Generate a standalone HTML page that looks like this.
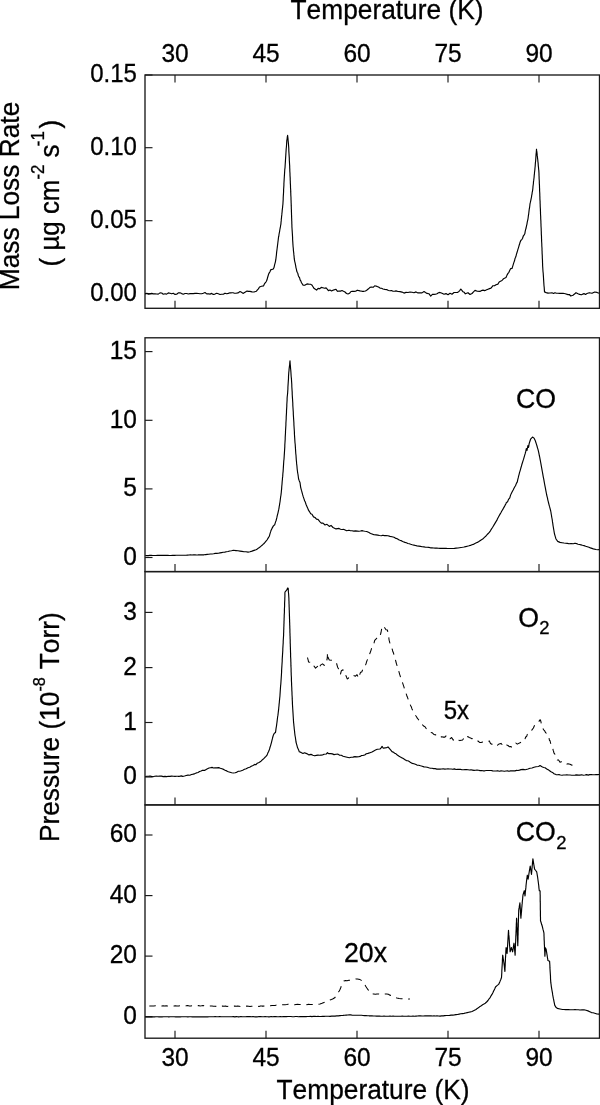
<!DOCTYPE html>
<html lang="en"><head><meta charset="utf-8"><title>TPD spectra</title>
<style>html,body{margin:0;padding:0;background:#fff}body{width:600px;height:1105px;overflow:hidden}svg{display:block}text{font-family:"Liberation Sans",Arial,sans-serif;fill:#000;stroke:#000;stroke-width:.3px;font-kerning:none}.tk{font-size:24.5px}.ti{font-size:26.3px}.lb{font-size:26.7px}.f{fill:none;stroke:#1a1a1a;stroke-width:1.35}.c{fill:none;stroke:#000;stroke-width:1.15;stroke-linejoin:round;stroke-linecap:butt}.t{stroke:#1a1a1a;stroke-width:1.15}.d{stroke-width:1.05}</style></head><body>
<svg width="600" height="1105" viewBox="0 0 600 1105">
<rect width="600" height="1105" fill="#fff"/>
<rect class="f" x="145" y="75" width="454.5" height="233.3"/>
<line class="t" x1="175.0" y1="308.3" x2="175.0" y2="300.8"/>
<line class="t" x1="266.0" y1="308.3" x2="266.0" y2="300.8"/>
<line class="t" x1="357.0" y1="308.3" x2="357.0" y2="300.8"/>
<line class="t" x1="448.0" y1="308.3" x2="448.0" y2="300.8"/>
<line class="t" x1="539.0" y1="308.3" x2="539.0" y2="300.8"/>
<line class="t" x1="175.0" y1="75" x2="175.0" y2="82.5"/>
<line class="t" x1="266.0" y1="75" x2="266.0" y2="82.5"/>
<line class="t" x1="357.0" y1="75" x2="357.0" y2="82.5"/>
<line class="t" x1="448.0" y1="75" x2="448.0" y2="82.5"/>
<line class="t" x1="539.0" y1="75" x2="539.0" y2="82.5"/>
<line class="t" x1="145" y1="75" x2="152.5" y2="75"/>
<text class="tk" transform="translate(136.9,82.3) scale(1,1.04)" text-anchor="end" style="font-size:24px">0.15</text>
<line class="t" x1="145" y1="147.7" x2="152.5" y2="147.7"/>
<text class="tk" transform="translate(136.9,155.0) scale(1,1.04)" text-anchor="end" style="font-size:24px">0.10</text>
<line class="t" x1="145" y1="220.7" x2="152.5" y2="220.7"/>
<text class="tk" transform="translate(136.9,228.0) scale(1,1.04)" text-anchor="end" style="font-size:24px">0.05</text>
<line class="t" x1="145" y1="293.6" x2="152.5" y2="293.6"/>
<text class="tk" transform="translate(136.9,300.9) scale(1,1.04)" text-anchor="end" style="font-size:24px">0.00</text>
<rect class="f" x="145" y="337.8" width="454.5" height="233.8"/>
<line class="t" x1="175.0" y1="571.6" x2="175.0" y2="564.1"/>
<line class="t" x1="266.0" y1="571.6" x2="266.0" y2="564.1"/>
<line class="t" x1="357.0" y1="571.6" x2="357.0" y2="564.1"/>
<line class="t" x1="448.0" y1="571.6" x2="448.0" y2="564.1"/>
<line class="t" x1="539.0" y1="571.6" x2="539.0" y2="564.1"/>
<line class="t" x1="145" y1="351.6" x2="152.5" y2="351.6"/>
<text class="tk" transform="translate(136.9,358.9) scale(1,1.04)" text-anchor="end">15</text>
<line class="t" x1="145" y1="420.3" x2="152.5" y2="420.3"/>
<text class="tk" transform="translate(136.9,427.6) scale(1,1.04)" text-anchor="end">10</text>
<line class="t" x1="145" y1="488.9" x2="152.5" y2="488.9"/>
<text class="tk" transform="translate(136.9,496.2) scale(1,1.04)" text-anchor="end">5</text>
<line class="t" x1="145" y1="557.5" x2="152.5" y2="557.5"/>
<text class="tk" transform="translate(136.9,564.8) scale(1,1.04)" text-anchor="end">0</text>
<rect class="f" x="145" y="571.6" width="454.5" height="233.29999999999995"/>
<line class="t" x1="175.0" y1="804.9" x2="175.0" y2="797.4"/>
<line class="t" x1="266.0" y1="804.9" x2="266.0" y2="797.4"/>
<line class="t" x1="357.0" y1="804.9" x2="357.0" y2="797.4"/>
<line class="t" x1="448.0" y1="804.9" x2="448.0" y2="797.4"/>
<line class="t" x1="539.0" y1="804.9" x2="539.0" y2="797.4"/>
<line class="t" x1="145" y1="612.4" x2="152.5" y2="612.4"/>
<text class="tk" transform="translate(136.9,619.7) scale(1,1.04)" text-anchor="end">3</text>
<line class="t" x1="145" y1="667.6" x2="152.5" y2="667.6"/>
<text class="tk" transform="translate(136.9,674.9) scale(1,1.04)" text-anchor="end">2</text>
<line class="t" x1="145" y1="722.5" x2="152.5" y2="722.5"/>
<text class="tk" transform="translate(136.9,729.8) scale(1,1.04)" text-anchor="end">1</text>
<line class="t" x1="145" y1="777" x2="152.5" y2="777"/>
<text class="tk" transform="translate(136.9,784.3) scale(1,1.04)" text-anchor="end">0</text>
<rect class="f" x="145" y="804.9" width="454.5" height="233.30000000000007"/>
<line class="t" x1="175.0" y1="1038.2" x2="175.0" y2="1030.7"/>
<line class="t" x1="266.0" y1="1038.2" x2="266.0" y2="1030.7"/>
<line class="t" x1="357.0" y1="1038.2" x2="357.0" y2="1030.7"/>
<line class="t" x1="448.0" y1="1038.2" x2="448.0" y2="1030.7"/>
<line class="t" x1="539.0" y1="1038.2" x2="539.0" y2="1030.7"/>
<line class="t" x1="145" y1="835" x2="152.5" y2="835"/>
<text class="tk" transform="translate(136.9,842.3) scale(1,1.04)" text-anchor="end">60</text>
<line class="t" x1="145" y1="895.6" x2="152.5" y2="895.6"/>
<text class="tk" transform="translate(136.9,902.9) scale(1,1.04)" text-anchor="end">40</text>
<line class="t" x1="145" y1="956.1" x2="152.5" y2="956.1"/>
<text class="tk" transform="translate(136.9,963.4) scale(1,1.04)" text-anchor="end">20</text>
<line class="t" x1="145" y1="1016.8" x2="152.5" y2="1016.8"/>
<text class="tk" transform="translate(136.9,1024.1) scale(1,1.04)" text-anchor="end">0</text>
<text class="tk" transform="translate(175.0,62) scale(1,1.04)" text-anchor="middle">30</text>
<text class="tk" transform="translate(175.0,1065.5) scale(1,1.04)" text-anchor="middle">30</text>
<text class="tk" transform="translate(266.0,62) scale(1,1.04)" text-anchor="middle">45</text>
<text class="tk" transform="translate(266.0,1065.5) scale(1,1.04)" text-anchor="middle">45</text>
<text class="tk" transform="translate(357.0,62) scale(1,1.04)" text-anchor="middle">60</text>
<text class="tk" transform="translate(357.0,1065.5) scale(1,1.04)" text-anchor="middle">60</text>
<text class="tk" transform="translate(448.0,62) scale(1,1.04)" text-anchor="middle">75</text>
<text class="tk" transform="translate(448.0,1065.5) scale(1,1.04)" text-anchor="middle">75</text>
<text class="tk" transform="translate(539.0,62) scale(1,1.04)" text-anchor="middle">90</text>
<text class="tk" transform="translate(539.0,1065.5) scale(1,1.04)" text-anchor="middle">90</text>
<text class="ti" transform="translate(387,18.9) scale(1,1.04)" text-anchor="middle">Temperature (K)</text>
<text class="ti" transform="translate(373,1098.8) scale(1,1.04)" text-anchor="middle">Temperature (K)</text>
<text class="ti" transform="translate(18.8,196) rotate(-90) scale(1,1.04)" text-anchor="middle">Mass Loss Rate</text>
<text class="ti" transform="translate(58.6,193.2) rotate(-90) scale(1,1.04)" text-anchor="middle" style="font-size:25.9px">( µg cm<tspan dy="-14.4" style="font-size:16.8px">-2</tspan><tspan dy="14.4"> s</tspan><tspan dy="-14.4" dx="-1.6" style="font-size:16.8px">-1</tspan><tspan dy="14.4" dx="2.6">)</tspan></text>
<text class="ti" transform="translate(58.9,727.2) rotate(-90) scale(1,1.04)" text-anchor="middle">Pressure (10<tspan dy="-13.2" style="font-size:16.2px">-8</tspan><tspan dy="13.2" dx="0.6"> Torr)</tspan></text>
<polyline class="c" points="145.3,293.9 146.9,293.3 148.4,294.2 150.0,294.0 151.7,293.4 153.3,293.9 155.0,293.9 156.7,294.0 158.3,294.1 160.0,292.9 161.7,293.0 163.3,294.2 165.0,293.8 166.7,294.1 168.3,292.9 170.0,293.3 171.7,293.8 173.3,293.3 175.0,294.4 176.7,294.3 178.3,292.9 180.0,292.8 181.7,293.6 183.3,294.2 185.0,293.5 186.7,293.5 188.3,294.0 190.0,293.6 191.7,293.6 193.3,293.6 195.0,293.4 196.7,293.3 198.3,293.5 200.0,293.7 201.7,293.7 203.3,293.2 205.0,292.5 206.7,293.9 208.3,293.7 210.0,294.1 211.7,293.4 213.3,294.4 215.0,294.1 216.7,293.3 218.3,293.8 220.0,294.5 221.7,294.2 223.3,294.2 225.0,293.2 226.7,293.7 228.3,293.4 230.0,292.8 231.5,292.8 233.0,292.7 234.5,293.2 236.0,293.2 238.0,292.9 240.0,291.6 241.5,292.3 243.0,293.4 245.0,292.2 247.0,291.1 248.5,291.4 250.0,291.4 252.0,291.9 254.0,292.0 256.3,291.3 257.4,289.9 258.4,288.9 259.5,287.0 261.5,286.3 263.5,285.9 264.6,283.6 265.8,282.1 266.4,281.2 267.0,279.8 267.6,277.5 268.2,275.5 268.8,273.6 269.4,272.6 270.0,271.7 270.6,269.9 273.3,269.0 274.0,267.6 274.6,264.9 275.0,263.4 275.4,261.8 275.8,259.7 276.0,258.1 276.2,256.4 276.4,255.0 276.5,253.6 276.7,251.6 276.9,250.3 277.1,248.7 277.3,247.2 277.5,245.5 277.7,244.0 277.9,242.3 278.1,240.7 278.3,239.1 278.5,237.3 278.8,236.2 279.0,234.5 279.3,232.9 279.6,231.5 279.8,230.0 280.1,228.4 280.4,226.9 280.6,225.5 280.9,224.1 281.0,222.5 281.2,220.9 281.3,219.2 281.5,217.8 281.6,216.3 281.8,214.9 281.9,213.5 282.1,212.0 282.2,210.4 282.4,208.9 282.6,207.2 282.7,205.9 282.9,204.3 283.0,202.5 283.1,200.9 283.2,199.3 283.2,198.1 283.3,196.3 283.4,194.6 283.5,193.2 283.6,191.5 283.6,189.8 283.7,188.3 283.8,186.9 283.9,185.1 283.9,183.6 284.0,182.2 284.1,180.5 284.2,178.8 284.3,177.3 284.4,175.5 284.5,174.1 284.6,172.5 284.7,170.8 284.8,169.2 285.0,168.0 285.1,166.2 285.2,164.5 285.3,163.1 285.4,161.6 285.5,159.7 285.6,158.1 285.7,156.6 285.8,155.2 285.9,153.4 286.0,152.0 286.1,150.4 286.2,148.8 286.4,147.0 286.5,145.8 286.6,144.1 286.7,142.4 286.8,140.7 287.1,139.0 287.3,137.1 287.6,135.3 287.8,137.0 288.0,138.8 288.1,140.3 288.3,142.2 288.5,144.2 288.6,145.7 288.7,147.1 288.8,148.9 288.8,150.3 288.9,152.1 289.0,153.6 289.1,155.1 289.2,156.6 289.3,158.1 289.3,160.0 289.4,161.2 289.5,163.1 289.6,164.8 289.7,166.1 289.7,167.5 289.8,169.3 289.8,170.8 289.9,172.2 290.0,173.7 290.0,175.1 290.1,176.6 290.2,178.1 290.2,179.8 290.3,181.2 290.3,182.6 290.4,184.1 290.5,185.8 290.5,187.2 290.6,188.8 290.7,190.2 290.7,191.9 290.8,193.4 290.8,194.6 290.9,196.2 291.0,197.7 291.0,199.5 291.1,200.9 291.1,202.3 291.2,203.7 291.2,205.4 291.3,207.0 291.3,208.6 291.4,209.8 291.4,211.6 291.5,213.0 291.5,214.4 291.6,216.1 291.6,217.3 291.7,219.0 291.7,220.3 291.8,221.8 291.8,223.6 291.9,224.9 291.9,226.6 292.0,228.0 292.1,229.7 292.2,231.1 292.3,232.7 292.4,234.2 292.5,236.1 292.6,237.5 292.6,239.3 292.7,240.8 292.8,242.1 292.9,243.9 293.0,245.3 293.1,246.8 293.3,248.4 293.4,250.3 293.6,251.9 293.8,253.5 293.9,254.9 294.1,256.6 294.2,258.2 294.4,259.6 294.7,261.3 295.1,262.8 295.4,264.3 295.7,265.9 296.0,267.8 296.4,269.2 296.7,271.0 297.2,272.2 297.8,273.3 298.3,275.5 298.9,276.9 299.4,277.2 300.1,279.9 300.8,280.9 301.5,282.7 303.1,285.1 304.7,285.3 307.0,283.9 309.4,284.2 310.6,284.3 311.8,284.9 313.0,286.7 314.2,288.6 316.6,290.1 318.1,288.4 319.7,288.8 321.3,287.4 322.9,287.7 324.5,288.2 326.1,287.9 327.2,289.1 328.4,290.6 330.0,290.0 331.6,290.9 333.3,290.1 336.0,289.3 337.5,291.3 339.0,291.0 340.5,291.1 342.0,290.5 343.5,291.3 345.0,292.0 346.5,293.5 348.0,294.0 349.5,293.3 351.0,291.5 352.5,291.2 354.0,291.4 355.6,291.3 357.3,290.2 360.0,290.9 362.0,291.3 364.0,291.3 365.5,291.0 367.0,290.0 368.5,288.8 370.0,287.4 371.6,287.0 373.1,287.3 374.7,285.8 377.0,286.4 378.5,287.1 380.0,288.1 381.5,288.2 383.0,289.0 384.9,289.4 386.7,289.6 388.4,290.5 390.0,290.8 391.5,290.5 393.0,291.2 394.5,291.2 396.0,290.9 398.0,291.5 400.0,291.6 402.0,292.1 404.0,293.1 406.0,292.4 408.0,292.5 410.0,292.0 412.0,292.3 414.0,292.7 416.0,291.9 418.0,292.9 420.0,292.8 422.0,292.9 424.0,291.5 425.5,292.5 427.0,293.4 428.9,293.7 430.7,296.1 432.4,294.3 434.0,294.4 435.5,294.3 437.0,293.7 438.5,292.8 440.0,292.4 442.0,293.3 444.0,294.2 446.0,293.6 448.0,294.7 450.0,293.3 452.0,294.2 454.0,292.5 456.0,292.5 457.5,292.5 459.0,291.4 459.9,290.3 460.8,289.0 461.9,290.3 463.0,291.8 464.1,292.2 465.3,293.8 468.0,292.7 470.0,294.5 472.0,293.5 473.5,291.8 475.0,290.4 477.3,291.3 480.0,291.4 481.5,290.6 483.0,290.1 484.5,290.6 486.0,290.1 488.0,289.2 489.5,288.6 491.0,288.1 493.0,285.7 494.5,285.8 496.0,284.7 498.0,284.1 499.0,282.2 500.0,281.4 502.0,280.5 503.0,279.3 504.0,278.4 506.0,277.5 507.0,275.1 508.0,273.4 508.9,272.3 509.8,270.3 510.7,268.6 512.0,268.5 512.5,266.9 513.0,265.3 513.5,263.6 514.0,262.1 514.5,260.8 515.0,258.6 515.5,257.5 516.0,256.0 516.5,254.1 517.0,252.5 517.5,250.8 518.0,249.2 518.5,247.6 519.0,245.8 519.5,244.3 520.0,242.5 520.8,240.5 521.7,239.6 522.5,238.5 523.3,236.0 524.0,235.2 524.8,233.8 525.2,231.4 525.6,229.7 526.1,228.0 526.5,225.9 526.9,224.3 527.2,222.4 527.6,220.6 528.0,218.8 528.2,217.2 528.4,215.6 528.7,213.8 528.9,212.0 529.1,210.4 529.3,208.8 529.6,207.3 529.8,205.7 530.0,203.8 530.4,202.2 530.8,200.4 531.2,198.4 531.5,197.0 531.7,195.4 532.0,194.1 532.2,192.3 532.5,191.2 532.7,189.6 532.9,188.0 533.0,186.3 533.2,185.0 533.4,183.5 533.5,181.6 533.7,180.4 533.9,178.8 534.1,177.2 534.2,175.6 534.4,173.9 534.5,172.5 534.7,171.0 534.9,169.1 535.0,167.7 535.2,166.0 535.3,164.3 535.4,162.9 535.6,161.3 535.7,160.1 535.8,158.6 535.9,156.7 536.0,155.4 536.1,153.8 536.3,152.2 536.4,150.7 536.5,149.2 536.7,150.9 536.9,152.1 537.1,153.8 537.2,155.4 537.4,156.7 537.6,158.5 537.8,160.0 537.9,161.6 538.1,162.9 538.2,164.4 538.3,166.0 538.5,167.4 538.6,169.0 538.8,170.4 538.9,172.1 539.0,173.7 539.0,175.2 539.1,176.9 539.1,178.2 539.2,179.8 539.3,181.5 539.3,183.0 539.4,184.5 539.5,186.0 539.5,187.5 539.6,188.9 539.6,190.8 539.7,192.1 539.8,193.9 539.8,195.4 539.9,197.1 539.9,198.6 540.0,200.2 540.1,201.4 540.1,203.0 540.2,204.6 540.2,206.0 540.3,207.6 540.4,209.1 540.4,210.7 540.5,212.0 540.5,213.7 540.6,215.2 540.7,216.7 540.7,218.2 540.8,219.9 540.9,221.4 540.9,222.8 541.0,224.4 541.0,225.8 541.1,227.3 541.2,228.7 541.2,230.3 541.3,232.0 541.3,233.6 541.4,235.1 541.5,236.5 541.5,238.2 541.6,239.5 541.6,241.2 541.7,242.5 541.8,244.2 541.8,245.8 541.9,247.0 542.0,248.4 542.0,250.1 542.1,251.6 542.1,253.1 542.2,254.4 542.3,256.1 542.3,257.6 542.4,259.1 542.5,260.8 542.5,262.2 542.6,263.8 542.6,265.4 542.7,266.8 542.8,268.3 542.9,270.0 543.0,271.5 543.2,273.1 543.3,274.7 543.4,276.1 543.5,277.8 543.6,279.4 543.7,281.1 543.8,282.6 543.9,284.2 544.0,285.8 544.2,287.4 544.3,288.9 544.4,290.4 544.5,291.9 546.2,292.6 548.0,293.1 550.0,293.0 552.0,292.8 553.5,293.5 555.0,292.7 556.5,293.2 558.0,293.2 559.5,293.4 561.0,293.3 563.1,293.3 565.3,293.7 568.0,294.6 569.4,294.5 570.7,296.0 573.0,295.2 574.5,294.0 576.0,292.7 578.0,293.7 579.6,294.4 581.3,294.8 584.0,293.6 585.5,294.4 587.0,293.5 589.3,292.7 592.0,293.3 594.7,292.0 597.0,292.4 599.0,293.3"/>
<polyline class="c" points="145.3,555.5 146.8,555.6 148.3,555.6 149.8,555.4 151.3,555.4 152.8,555.5 154.4,555.5 155.9,555.5 157.4,555.4 158.9,555.4 160.4,555.4 161.9,555.4 163.4,555.3 164.9,555.4 166.4,555.4 167.9,555.4 169.4,555.5 170.9,555.5 172.5,555.4 174.0,555.3 175.5,555.3 177.0,555.2 178.5,555.2 180.0,555.3 181.5,555.2 183.0,555.2 184.5,555.3 186.0,555.2 187.5,555.1 189.0,555.0 190.5,554.9 192.0,555.0 193.5,554.9 195.0,554.9 196.5,555.0 198.0,554.9 199.5,554.7 201.0,554.9 202.5,554.8 204.0,554.8 205.6,554.6 207.2,554.4 208.8,554.3 210.4,554.0 212.0,554.0 213.6,553.8 215.2,553.4 216.8,553.4 218.4,553.2 220.0,552.9 221.6,552.6 223.2,552.3 224.8,552.1 226.4,551.7 228.0,551.5 229.8,551.0 231.5,550.7 233.3,550.3 236.0,550.6 238.0,550.8 240.0,551.1 242.0,551.4 244.0,551.7 246.0,551.8 248.0,552.1 250.0,551.7 252.0,551.1 254.0,550.4 256.0,549.8 257.3,549.0 258.7,547.9 260.0,547.1 261.3,545.9 262.7,544.7 264.0,543.5 265.0,542.4 266.0,541.2 267.0,540.0 268.1,538.1 269.3,536.3 269.7,534.9 270.1,533.4 270.6,531.9 271.0,530.5 272.0,528.4 273.4,525.9 274.7,524.8 275.1,523.4 275.6,521.9 276.1,520.5 276.5,519.0 276.9,517.4 277.2,515.9 277.6,514.3 278.0,512.8 278.3,511.3 278.7,509.7 279.0,508.1 279.2,506.6 279.5,505.1 279.7,503.6 280.0,502.0 280.2,500.4 280.4,498.7 280.6,497.2 280.9,495.5 281.1,493.9 281.3,492.3 281.4,490.7 281.6,489.1 281.7,487.5 281.8,486.0 282.0,484.3 282.1,482.7 282.2,481.2 282.4,479.5 282.5,477.9 282.7,476.4 282.8,474.8 282.9,473.2 283.1,471.6 283.2,470.0 283.3,468.5 283.4,466.9 283.5,465.4 283.6,463.8 283.7,462.3 283.8,460.8 284.0,459.2 284.1,457.7 284.2,456.2 284.3,454.6 284.4,453.1 284.5,451.5 284.6,450.0 284.7,448.4 284.8,446.9 284.8,445.3 284.9,443.7 285.0,442.2 285.1,440.6 285.2,439.1 285.2,437.5 285.3,435.9 285.4,434.3 285.5,432.8 285.5,431.2 285.6,429.7 285.7,428.1 285.8,426.5 285.9,425.0 285.9,423.4 286.0,421.8 286.1,420.3 286.2,418.7 286.2,417.2 286.3,415.6 286.4,414.1 286.5,412.6 286.5,411.0 286.6,409.5 286.7,407.9 286.8,406.3 286.8,404.7 286.9,403.2 287.0,401.7 287.1,400.1 287.1,398.6 287.2,397.0 287.4,395.2 287.6,393.5 287.7,392.0 287.8,390.4 287.9,389.0 287.9,387.4 288.0,385.9 288.1,384.4 288.2,382.9 288.3,381.4 288.4,379.9 288.5,378.3 288.5,376.8 288.6,375.3 288.7,373.8 288.8,372.3 289.0,370.7 289.1,369.1 289.3,367.4 289.5,365.8 289.7,364.2 289.8,362.5 290.0,360.9 290.1,362.5 290.2,364.1 290.4,365.7 290.5,367.2 290.6,368.8 290.8,370.5 290.9,372.0 291.0,373.6 291.1,375.3 291.2,376.8 291.4,378.4 291.5,380.0 291.6,381.5 291.7,383.1 291.8,384.7 291.8,386.2 291.9,387.8 292.0,389.4 292.1,390.9 292.2,392.4 292.2,394.0 292.3,395.5 292.4,397.1 292.5,398.6 292.6,400.2 292.7,401.7 292.8,403.3 292.8,404.9 292.9,406.5 293.0,408.0 293.1,409.5 293.2,411.0 293.3,412.5 293.3,414.0 293.4,415.5 293.5,417.0 293.6,418.5 293.7,420.0 293.8,421.5 293.9,423.0 293.9,424.5 294.0,426.0 294.1,427.5 294.2,429.0 294.3,430.5 294.4,432.0 294.4,433.5 294.5,435.0 294.6,436.5 294.7,438.0 294.8,439.6 294.9,441.2 295.0,442.7 295.2,444.3 295.3,445.9 295.4,447.5 295.5,449.0 295.6,450.6 295.7,452.2 295.8,453.7 296.0,455.3 296.1,456.9 296.2,458.4 296.3,460.0 296.5,461.7 296.6,463.4 296.8,465.0 297.0,466.7 297.1,468.3 297.3,470.0 297.5,471.5 297.7,473.0 298.0,474.5 298.2,476.0 298.4,477.5 298.6,479.0 299.3,480.9 300.0,482.5 300.2,483.9 300.4,485.5 300.6,487.0 301.0,488.6 301.4,490.2 301.9,491.8 302.3,493.4 302.7,494.9 303.3,496.9 304.0,498.9 304.6,500.7 305.3,502.1 306.0,504.2 306.7,506.1 307.6,507.9 308.5,510.2 309.6,511.8 310.7,513.8 312.0,514.3 313.5,516.9 315.0,517.5 316.5,519.2 318.0,519.4 320.0,521.8 321.3,523.1 323.0,523.1 325.0,525.0 327.0,524.3 329.3,526.4 331.0,525.4 333.0,527.5 334.5,528.2 336.0,528.9 337.5,528.6 339.0,528.4 340.5,529.3 342.0,529.5 344.0,529.4 346.7,530.7 349.0,530.2 350.5,530.7 352.0,530.8 353.8,531.1 355.5,530.9 357.3,531.1 358.9,531.3 360.4,531.0 362.0,530.6 363.6,531.0 365.1,531.3 366.7,531.5 369.0,532.6 370.5,533.5 372.0,533.9 374.0,534.8 376.0,534.9 377.8,535.1 379.5,535.5 381.3,535.7 382.9,535.2 384.4,535.6 386.0,535.6 388.0,535.8 390.0,536.4 392.0,536.7 394.0,537.2 396.0,538.4 397.3,538.7 398.7,539.7 400.0,540.3 401.7,540.9 403.3,541.7 405.0,542.4 406.4,542.8 407.9,543.5 409.3,543.7 410.7,544.2 412.3,544.7 413.9,545.1 415.4,545.5 417.0,545.9 418.8,546.1 420.5,546.4 422.2,546.7 424.0,546.9 425.6,547.2 427.2,547.2 428.8,547.4 430.4,547.8 432.0,547.8 433.6,548.0 435.2,548.1 436.8,548.1 438.4,548.3 440.0,548.4 441.5,548.4 443.1,548.3 444.6,548.3 446.1,548.4 447.6,548.5 449.2,548.5 450.7,548.5 452.5,548.5 454.4,548.4 456.2,548.1 458.0,548.0 459.5,547.7 461.0,547.5 462.5,547.3 464.0,547.0 465.7,546.6 467.3,546.2 469.0,545.8 470.4,545.4 471.9,544.7 473.3,544.4 474.9,543.5 476.4,542.8 478.0,542.1 479.6,541.0 481.1,540.0 482.7,539.1 484.4,537.4 486.0,536.0 487.1,534.7 488.2,533.5 489.3,532.4 490.4,530.8 491.4,529.1 492.5,527.5 493.4,526.0 494.2,524.6 495.1,523.1 496.0,521.6 496.8,520.4 497.5,518.8 498.2,517.5 499.0,516.0 499.9,514.4 500.9,512.7 501.8,511.0 502.7,509.7 503.5,508.1 504.2,506.9 505.0,505.4 505.8,504.0 506.5,502.3 507.5,502.0 508.5,499.4 509.8,497.9 510.4,495.6 511.1,493.9 511.8,492.5 512.6,491.0 513.3,489.8 514.0,488.2 514.8,486.8 515.5,485.7 516.4,483.4 517.3,481.9 517.7,479.8 518.2,477.9 518.6,476.1 519.1,474.3 519.5,472.7 520.0,471.1 520.5,469.3 521.0,467.5 521.5,465.8 522.0,464.0 522.5,462.5 523.0,460.9 523.5,459.4 524.0,457.7 524.5,455.9 525.1,453.9 525.6,452.0 526.0,450.3 526.3,448.5 527.0,450.4 527.3,448.8 527.6,447.2 527.9,445.5 528.5,447.5 528.8,446.1 529.0,444.4 529.3,443.1 530.0,441.0 530.6,439.2 531.5,438.2 532.5,437.0 534.0,438.1 535.2,440.4 535.8,442.2 536.4,444.1 537.0,446.0 537.4,447.6 537.9,449.2 538.3,450.7 538.7,452.3 539.0,453.9 539.3,455.5 539.7,457.1 540.0,458.8 540.3,460.4 540.6,462.0 540.9,463.7 541.2,465.3 541.5,467.0 541.8,468.7 542.1,470.3 542.4,472.0 542.7,473.7 543.0,475.4 543.3,477.1 543.7,478.8 544.0,480.6 544.3,482.3 544.6,484.0 544.9,485.6 545.2,487.1 545.5,488.7 545.8,490.3 546.1,491.9 546.4,493.5 546.7,495.0 547.1,496.6 547.5,498.2 547.8,499.8 548.2,501.4 548.6,503.0 549.0,504.6 549.4,506.2 549.9,507.8 550.3,509.4 550.7,511.0 551.0,512.5 551.2,514.0 551.5,515.5 551.7,517.0 552.0,518.5 552.3,520.2 552.5,521.9 552.8,523.6 553.0,525.3 553.3,527.0 553.6,528.8 553.9,530.5 554.2,532.3 554.5,534.0 555.0,535.7 555.5,537.3 556.0,539.0 557.7,541.4 560.0,542.4 562.0,542.7 564.0,543.0 565.7,543.2 567.3,543.4 569.0,543.8 571.1,543.6 573.3,543.7 575.0,543.2 576.5,543.6 578.0,544.3 579.5,544.5 581.0,544.9 582.5,545.3 584.0,545.6 585.7,546.2 587.3,546.7 589.0,547.2 590.4,547.9 591.9,548.4 593.3,548.9 596.0,549.5 597.6,549.7 599.2,549.6"/>
<polyline class="c" points="145.3,776.5 146.9,776.2 148.4,776.3 150.0,776.0 151.5,776.4 153.0,776.7 154.7,776.2 156.3,776.0 158.0,776.3 159.8,776.0 161.5,776.1 163.2,776.6 165.0,776.4 166.7,776.6 168.3,776.3 170.0,776.4 171.7,776.1 173.3,776.3 175.0,776.4 176.5,776.2 178.1,776.3 179.6,776.3 181.2,775.9 182.7,776.4 184.5,776.0 186.2,775.5 188.0,775.1 189.8,775.2 191.5,774.5 193.3,774.1 194.9,773.6 196.4,772.9 198.0,772.5 199.6,771.5 201.1,771.0 202.7,770.2 204.5,770.4 207.0,769.0 209.0,768.0 210.5,767.7 212.0,767.4 213.5,768.0 215.0,767.9 216.8,767.9 218.7,767.6 220.3,768.3 222.0,768.8 223.6,769.4 225.1,770.2 226.7,770.9 228.3,771.7 230.0,772.2 231.7,772.7 233.3,773.0 235.2,772.7 237.0,772.1 238.4,771.3 239.8,771.2 241.3,770.8 242.7,770.2 244.5,769.3 246.2,768.7 248.0,767.7 249.7,767.3 251.3,766.3 253.0,765.4 254.7,764.4 256.0,764.7 257.3,763.2 259.0,762.5 261.0,761.2 262.5,759.7 264.0,758.4 265.0,757.3 266.0,756.4 267.0,755.2 267.8,753.1 268.5,751.7 269.3,749.7 269.7,748.5 270.1,747.0 270.6,745.6 271.0,744.1 271.5,742.3 271.9,740.6 272.4,738.7 272.8,737.0 273.3,735.3 274.3,733.3 275.5,732.5 275.7,731.2 275.9,729.7 276.1,728.1 276.4,726.5 276.6,725.1 276.8,723.5 277.0,722.1 277.2,720.4 277.4,718.7 277.6,717.0 277.9,715.4 278.1,713.7 278.3,712.0 278.5,710.4 278.7,708.7 278.8,707.3 279.0,705.7 279.1,704.1 279.3,702.7 279.4,701.0 279.6,699.5 279.7,698.1 279.9,696.5 280.0,695.0 280.1,693.4 280.2,691.9 280.3,690.4 280.4,688.8 280.5,687.4 280.6,685.9 280.8,684.2 280.9,682.8 281.0,681.3 281.1,679.8 281.2,678.2 281.3,676.7 281.4,675.2 281.5,673.5 281.6,672.0 281.6,670.5 281.7,669.0 281.8,667.4 281.9,665.8 282.0,664.3 282.1,662.7 282.2,661.2 282.2,659.6 282.3,658.1 282.4,656.6 282.5,655.0 282.6,653.5 282.7,652.0 282.8,650.3 282.8,648.9 282.9,647.4 283.0,645.8 283.1,644.3 283.2,642.9 283.2,641.2 283.3,639.7 283.4,638.2 283.5,636.7 283.6,635.1 283.6,633.6 283.7,632.1 283.7,630.7 283.8,629.1 283.8,627.7 283.9,626.0 283.9,624.6 284.0,623.1 284.0,621.6 284.1,620.0 284.1,618.5 284.2,617.0 284.2,615.5 284.3,613.9 284.4,612.5 284.4,610.9 284.4,609.2 284.5,607.7 284.6,606.2 284.6,604.6 284.6,603.1 284.7,601.4 284.8,599.8 284.8,598.2 284.9,596.8 284.9,595.1 284.9,593.5 285.0,592.0 286.0,590.8 287.0,589.7 287.6,588.0 288.2,588.3 288.3,590.1 288.4,592.0 288.6,593.7 288.7,595.4 288.8,597.0 288.9,598.6 288.9,600.1 289.0,601.5 289.0,603.2 289.1,604.7 289.1,606.2 289.2,607.7 289.2,609.2 289.3,610.8 289.3,612.3 289.4,613.8 289.4,615.4 289.5,616.9 289.5,618.5 289.6,619.9 289.6,621.6 289.7,623.1 289.7,624.6 289.8,626.2 289.8,627.7 289.9,629.2 289.9,630.6 289.9,632.2 290.0,633.7 290.0,635.2 290.1,636.8 290.1,638.3 290.2,639.8 290.2,641.4 290.2,642.9 290.3,644.4 290.3,645.9 290.4,647.5 290.4,648.9 290.5,650.5 290.5,652.0 290.6,653.4 290.6,655.0 290.6,656.6 290.7,657.9 290.8,659.6 290.8,661.1 290.9,662.6 290.9,664.1 290.9,665.4 291.0,667.0 291.1,668.6 291.1,669.9 291.1,671.5 291.2,673.0 291.2,674.5 291.3,676.0 291.4,677.5 291.4,679.0 291.4,680.4 291.5,681.9 291.6,683.5 291.6,685.0 291.7,686.5 291.8,688.2 291.8,689.7 291.9,691.1 292.0,692.7 292.0,694.2 292.1,695.8 292.2,697.3 292.2,698.9 292.3,700.4 292.4,701.9 292.4,703.4 292.5,705.0 292.6,706.5 292.7,708.2 292.8,709.8 292.9,711.4 293.0,712.9 293.1,714.5 293.2,716.2 293.3,717.8 293.4,719.5 293.5,721.0 293.6,722.6 293.8,724.0 293.9,725.5 294.1,727.0 294.2,728.5 294.4,730.0 294.6,731.5 294.7,733.0 294.9,734.5 295.1,736.0 295.4,737.5 295.6,739.0 295.8,740.4 296.0,742.0 296.5,743.8 297.0,745.7 297.5,747.6 298.4,749.4 299.3,751.7 301.0,752.4 303.0,753.5 304.5,752.8 306.7,753.6 309.0,754.9 311.0,754.4 312.9,755.2 314.7,755.8 316.4,755.4 318.0,755.1 319.5,755.2 321.0,755.1 322.5,755.0 324.0,754.2 326.3,754.0 327.5,752.7 328.6,753.6 330.7,753.6 332.4,753.9 334.0,754.6 336.0,754.2 338.0,754.1 339.6,755.2 341.3,755.3 343.1,756.3 345.0,756.7 347.1,757.2 349.3,757.7 351.1,757.2 353.0,757.1 354.9,756.6 356.8,756.9 358.7,756.7 360.1,756.4 361.6,755.5 363.0,755.4 364.7,755.0 366.3,753.8 368.0,753.4 370.0,752.7 372.0,752.0 373.8,750.9 375.5,750.1 377.3,749.3 380.0,749.0 381.1,747.9 382.1,746.4 383.3,748.2 385.0,747.9 386.5,747.8 388.0,746.9 389.5,748.7 390.8,750.2 392.0,751.6 393.3,752.1 394.7,753.2 396.0,753.8 397.3,755.0 398.7,756.0 400.0,756.8 401.7,757.7 403.3,758.6 405.0,759.7 406.4,760.6 407.9,760.8 409.3,761.5 410.7,762.6 412.3,763.4 413.9,763.8 415.4,764.3 417.0,765.1 418.8,765.3 420.5,765.8 422.2,766.2 424.0,766.9 425.6,767.0 427.2,767.2 428.8,767.8 430.4,768.3 432.0,768.2 433.6,768.6 435.2,768.6 436.8,769.1 438.4,769.1 440.0,769.1 441.6,769.0 443.2,768.8 444.8,769.1 446.4,769.0 448.0,768.8 449.6,769.0 451.2,769.0 452.8,769.3 454.4,768.9 456.0,769.5 457.5,769.3 459.0,769.4 460.5,769.4 462.0,769.7 463.5,769.7 465.0,769.6 466.5,769.6 468.0,769.8 469.5,770.0 471.0,769.8 472.5,770.1 474.0,770.4 475.5,770.2 477.0,770.1 478.5,770.2 480.0,770.6 481.6,770.6 483.2,770.8 484.8,770.8 486.4,770.5 488.0,770.5 489.6,770.5 491.2,770.5 492.8,770.9 494.4,771.0 496.0,771.0 497.7,770.7 499.3,771.2 501.0,770.9 502.7,771.0 504.3,771.3 506.0,771.0 507.5,770.9 509.0,771.3 510.5,770.9 512.0,770.9 513.5,770.9 515.0,770.9 516.5,770.4 518.0,770.5 519.5,770.1 521.0,769.6 523.1,769.4 525.3,769.7 528.0,769.0 530.0,768.3 532.0,768.0 534.0,767.2 536.0,766.7 538.6,766.5 540.0,765.6 542.0,766.8 543.6,767.5 545.1,767.8 546.7,769.0 548.1,769.6 549.6,770.7 551.0,771.7 552.5,772.4 554.0,773.7 556.0,774.6 557.5,774.8 559.0,774.6 560.5,775.0 562.0,775.2 563.6,775.0 565.2,775.0 566.8,774.8 568.5,775.0 570.1,775.0 571.7,775.2 573.3,775.2 575.0,775.1 576.6,774.9 578.3,775.1 580.0,775.1 581.7,774.8 583.3,775.2 585.0,775.0 586.6,774.6 588.2,775.1 589.7,774.6 591.3,774.6 592.9,774.8 594.5,774.7 596.0,774.6 597.6,774.6 599.2,774.5"/>
<polyline class="c d" stroke-dasharray="6.2 5.6" points="307.5,657.5 307.8,658.8 308.2,660.2 308.5,661.9 310.5,662.2 311.2,663.3 312.0,665.3 313.5,665.5 314.5,666.7 315.5,668.1 317.5,666.4 318.1,668.4 318.7,669.1 319.6,667.1 320.5,665.1 322.5,663.9 324.5,665.5 325.2,664.1 326.0,662.9 326.6,661.3 327.2,658.3 327.3,657.2 327.4,655.8 327.4,654.3 327.5,652.7 327.8,654.6 328.0,655.9 328.3,658.1 329.3,660.1 331.5,660.2 333.1,660.6 334.7,662.4 336.6,663.5 337.6,667.2 338.5,668.8 339.2,669.3 340.0,670.0 340.2,672.5 340.5,674.0 340.9,672.5 341.4,670.7 343.0,669.8 343.3,671.1 343.7,672.7 344.0,674.0 345.5,674.8 346.3,676.4 347.2,678.9 348.0,678.6 349.2,677.0 350.5,676.7 351.9,675.4 353.3,675.5 355.5,676.2 357.0,674.7 358.7,678.3 359.3,675.1 359.9,674.2 360.5,672.3 361.7,671.9 362.8,669.6 364.0,668.4 364.5,667.9 365.0,665.6 365.6,664.8 366.1,663.6 366.6,661.7 367.1,660.4 367.7,659.1 368.2,658.2 368.8,656.7 369.3,655.1 369.8,653.6 370.4,652.0 370.9,650.6 371.5,648.7 372.0,647.6 372.5,646.4 373.1,645.1 373.6,643.6 374.2,642.4 374.7,640.4 375.9,639.1 377.0,638.1 379.6,637.8 380.1,635.9 380.5,634.3 381.0,632.5 381.3,630.9 381.6,629.2 381.8,627.6 382.1,626.0 384.0,626.9 385.0,628.2 386.0,629.7 387.4,629.9 387.7,631.4 387.9,632.9 388.2,634.4 388.5,636.1 388.8,637.6 389.0,639.3 389.3,640.9 389.9,643.0 390.4,644.3 391.0,645.8 391.5,647.0 391.9,648.4 392.4,649.8 392.8,651.5 393.3,652.5 393.8,654.2 394.2,655.8 394.6,657.3 395.1,659.0 395.6,660.4 396.0,662.0 396.4,663.6 396.9,665.1 397.4,666.8 397.8,668.2 398.2,669.7 398.7,671.3 399.2,672.6 399.6,674.2 400.1,675.6 400.5,677.1 401.0,678.6 401.5,680.0 402.0,681.1 402.5,682.7 403.0,684.2 403.5,685.6 404.0,687.1 404.5,689.0 405.0,689.9 405.5,691.3 406.0,693.4 406.5,694.6 407.0,696.3 407.5,697.4 408.1,699.1 408.6,700.4 409.1,701.9 409.6,703.3 410.2,704.6 410.7,705.7 411.4,707.1 412.0,708.9 412.7,710.2 413.3,711.5 414.0,712.4 414.8,714.0 415.6,715.5 416.5,716.7 417.3,718.2 418.4,719.5 419.4,721.1 420.5,722.6 421.7,723.5 422.8,725.1 424.0,726.3 425.0,726.7 426.0,728.3 427.0,729.3 428.2,730.2 429.5,730.7 430.7,732.4 432.1,732.7 433.6,734.2 435.0,734.9 436.7,734.5 438.3,735.3 440.0,737.0 441.5,736.8 443.0,737.1 444.9,737.1 446.7,735.1 448.4,735.7 450.0,738.8 451.6,737.5 453.3,740.1 455.1,738.4 457.0,739.8 458.4,740.1 459.9,740.6 461.3,740.2 462.6,740.1 464.0,737.8 466.0,738.9 467.0,736.7 468.0,736.6 469.2,737.5 470.5,737.9 471.9,738.8 473.3,738.4 474.7,739.1 476.4,740.8 478.0,741.0 479.6,742.4 481.1,742.4 482.7,742.0 484.4,741.8 486.0,742.1 487.6,741.8 489.3,740.9 490.5,743.5 491.8,744.3 493.0,743.4 494.4,744.5 495.9,744.3 497.3,745.3 499.1,743.9 501.0,743.4 502.4,744.9 503.9,746.8 505.3,745.8 506.6,745.1 508.0,745.5 509.3,746.7 510.7,746.6 512.0,747.2 513.2,746.8 514.5,745.4 515.9,743.1 517.3,744.1 520.0,742.8 521.2,742.1 522.5,742.3 524.0,740.5 524.8,739.8 525.7,736.8 526.5,736.8 527.4,734.2 528.4,733.0 529.3,732.7 530.2,731.1 531.1,730.3 532.0,729.9 533.4,728.0 534.7,724.9 535.6,724.4 536.6,723.8 537.5,722.5 538.8,721.6 540.0,719.7 540.5,720.2 541.0,722.0 541.5,724.8 542.1,725.3 542.7,727.9 543.6,729.9 544.6,730.7 545.5,732.4 546.8,733.9 548.0,734.9 548.5,737.6 549.0,738.1 549.5,740.5 550.0,740.6 550.7,743.5 551.3,745.0 552.0,746.2 552.4,747.4 552.8,748.6 553.2,750.4 553.6,751.5 554.0,753.1 554.7,753.9 555.3,755.4 556.0,757.2 557.3,760.0 558.6,759.9 560.0,762.2 561.3,761.7 564.0,761.9 565.3,762.4 566.7,764.0 568.0,763.8 570.0,764.2 572.0,765.2 573.5,764.1 575.0,765.7 576.5,765.6"/>
<polyline class="c" points="145.3,1016.8 146.8,1016.8 148.3,1016.9 149.9,1016.9 151.4,1016.9 152.9,1016.9 154.4,1016.9 155.9,1016.7 157.5,1016.8 159.0,1016.9 160.5,1016.8 162.0,1016.9 163.5,1016.7 165.1,1016.8 166.6,1016.7 168.1,1016.8 169.6,1016.8 171.1,1016.7 172.7,1016.7 174.2,1016.7 175.7,1016.9 177.2,1016.9 178.7,1016.7 180.2,1016.9 181.8,1016.7 183.3,1016.8 184.8,1016.7 186.3,1016.7 187.8,1016.9 189.4,1016.7 190.9,1016.7 192.4,1016.9 193.9,1016.9 195.4,1016.7 197.0,1016.9 198.5,1016.8 200.0,1016.9 201.5,1016.7 203.0,1016.9 204.5,1016.8 206.1,1016.9 207.6,1016.9 209.1,1016.7 210.6,1016.7 212.1,1016.7 213.6,1016.7 215.2,1016.6 216.7,1016.7 218.2,1016.8 219.7,1016.6 221.2,1016.8 222.7,1016.7 224.2,1016.7 225.8,1016.8 227.3,1016.7 228.8,1016.7 230.3,1016.7 231.8,1016.8 233.3,1016.6 234.8,1016.9 236.4,1016.6 237.9,1016.8 239.4,1016.8 240.9,1016.6 242.4,1016.8 243.9,1016.7 245.5,1016.7 247.0,1016.6 248.5,1016.6 250.0,1016.6 251.5,1016.8 253.0,1016.6 254.5,1016.8 256.1,1016.8 257.6,1016.8 259.1,1016.6 260.6,1016.6 262.1,1016.7 263.6,1016.8 265.2,1016.6 266.7,1016.7 268.2,1016.8 269.7,1016.8 271.2,1016.5 272.7,1016.8 274.2,1016.5 275.8,1016.6 277.3,1016.7 278.8,1016.8 280.3,1016.6 281.8,1016.8 283.3,1016.6 284.8,1016.6 286.4,1016.6 287.9,1016.5 289.4,1016.5 290.9,1016.5 292.4,1016.7 293.9,1016.8 295.5,1016.5 297.0,1016.5 298.5,1016.7 300.0,1016.6 301.5,1016.6 303.0,1016.5 304.5,1016.6 306.0,1016.6 307.5,1016.5 309.0,1016.5 310.5,1016.4 312.0,1016.6 313.5,1016.3 315.0,1016.4 316.5,1016.5 318.0,1016.3 319.5,1016.5 321.0,1016.5 322.5,1016.4 324.0,1016.4 325.5,1016.2 327.0,1016.3 328.5,1016.2 330.0,1016.4 331.7,1016.1 333.3,1016.1 335.0,1016.1 336.7,1015.9 338.3,1015.9 340.0,1015.6 341.6,1015.5 343.1,1015.4 344.6,1015.2 346.2,1015.1 347.8,1015.0 349.3,1014.8 350.8,1014.9 352.4,1015.2 353.9,1015.2 355.4,1015.2 356.9,1015.2 358.5,1015.2 360.0,1015.2 361.5,1015.3 363.0,1015.5 364.5,1015.6 366.0,1015.5 367.5,1015.7 369.0,1015.8 370.5,1015.8 372.0,1015.9 373.5,1016.0 375.0,1016.0 376.5,1016.1 378.0,1016.0 379.5,1016.1 381.0,1016.2 382.5,1016.2 384.0,1016.1 385.5,1016.3 387.0,1016.2 388.5,1016.2 390.0,1016.1 391.5,1016.2 393.1,1016.1 394.6,1016.2 396.2,1016.2 397.7,1016.3 399.2,1016.2 400.8,1016.2 402.3,1016.1 403.8,1016.2 405.4,1016.2 406.9,1016.2 408.5,1016.1 410.0,1016.2 411.5,1016.2 413.0,1016.1 414.5,1016.2 416.0,1016.1 417.5,1016.0 419.0,1015.9 420.5,1015.8 422.0,1016.0 423.5,1016.0 425.0,1015.8 426.5,1015.9 428.0,1015.9 429.5,1015.9 431.0,1015.8 432.5,1016.0 434.0,1015.9 435.5,1016.0 437.0,1015.9 438.5,1016.0 440.0,1016.1 441.6,1015.9 443.2,1015.9 444.8,1015.6 446.4,1015.5 448.0,1015.5 449.6,1015.4 451.2,1015.1 452.8,1015.1 454.4,1014.9 456.0,1014.6 457.6,1014.5 459.2,1014.1 460.8,1013.8 462.4,1013.6 464.0,1013.4 465.6,1013.0 467.2,1012.6 468.8,1012.2 470.4,1011.9 472.0,1011.5 474.0,1010.5 476.0,1009.5 477.3,1008.4 478.7,1007.6 480.0,1006.4 481.3,1005.7 482.6,1004.8 483.9,1004.1 485.2,1003.2 486.6,1002.0 488.0,1000.5 489.1,998.8 490.3,997.3 491.2,995.6 492.1,994.1 493.0,992.5 493.6,991.1 494.2,989.9 494.9,988.5 495.5,987.0 497.0,985.6 498.6,984.4 499.3,982.9 500.0,981.4 500.8,979.5 501.5,977.5 501.6,976.0 501.7,974.4 501.8,972.8 501.8,971.2 501.9,969.6 502.0,968.0 502.1,966.4 502.2,964.8 502.3,963.2 502.4,961.6 502.4,960.0 502.5,958.4 502.6,956.8 502.7,955.2 503.0,956.9 503.2,958.6 503.5,960.3 503.8,962.0 504.0,963.6 504.2,965.2 504.4,966.8 504.5,968.3 504.7,970.0 504.9,971.5 505.0,970.0 505.0,968.5 505.1,967.0 505.2,965.5 505.2,964.0 505.3,962.5 505.4,961.0 505.4,959.5 505.5,958.0 505.6,956.5 505.7,955.0 505.8,953.5 505.8,952.0 505.9,950.5 506.0,949.0 506.1,947.5 506.4,949.0 506.6,950.5 506.9,952.0 507.1,953.5 507.2,951.9 507.3,950.2 507.4,948.6 507.5,946.9 507.6,945.3 507.7,943.7 507.8,942.0 507.9,940.3 508.0,938.7 508.1,937.0 508.2,935.3 508.3,933.6 508.4,932.0 508.5,930.3 508.6,931.8 508.7,933.3 508.8,934.9 509.0,936.4 509.1,937.9 509.2,939.4 509.3,941.0 509.4,942.6 509.5,944.1 509.6,945.6 509.8,947.1 509.9,948.7 510.0,950.3 510.1,951.8 510.8,949.7 511.4,947.5 512.0,949.6 512.6,951.8 512.9,950.1 513.2,948.4 513.4,946.7 513.7,944.9 514.0,943.2 514.1,944.7 514.3,946.2 514.4,947.7 514.5,949.2 514.7,950.7 514.8,952.2 515.0,953.7 515.1,955.2 515.2,953.6 515.2,952.1 515.3,950.5 515.3,949.0 515.4,947.4 515.5,945.8 515.5,944.3 515.6,942.8 515.7,941.2 515.7,939.6 515.8,938.1 515.8,936.6 515.9,935.0 516.0,933.4 516.0,932.0 516.1,930.5 516.2,928.9 516.2,927.4 516.3,925.8 516.3,924.3 516.4,922.8 516.5,921.3 516.5,919.8 516.6,918.2 516.7,919.7 516.7,921.2 516.8,922.8 516.9,924.3 516.9,925.8 517.0,927.4 517.1,928.9 517.1,930.4 517.2,931.9 517.3,933.4 517.3,935.0 517.4,936.5 517.5,938.0 517.5,939.6 517.6,941.1 517.7,942.7 517.7,944.1 517.8,945.7 517.8,944.1 517.9,942.5 517.9,940.9 518.0,939.4 518.0,937.7 518.0,936.1 518.1,934.6 518.1,932.9 518.1,931.4 518.2,929.8 518.2,928.2 518.3,926.6 518.3,925.0 518.3,923.4 518.4,921.8 518.4,920.1 518.5,918.6 518.5,916.9 518.6,915.3 518.6,913.7 518.7,912.1 518.7,910.5 518.9,908.9 519.2,907.4 519.4,905.9 519.7,904.3 519.9,902.8 520.0,904.3 520.1,905.8 520.2,907.4 520.3,908.9 520.4,910.5 520.5,912.0 520.6,913.6 520.7,915.1 520.8,916.6 520.9,918.2 521.0,916.5 521.2,914.9 521.3,913.3 521.5,911.6 521.6,909.9 521.7,908.3 521.9,906.7 522.0,905.0 522.2,903.4 522.3,901.6 522.5,900.0 522.7,898.3 522.8,896.6 523.0,895.0 523.6,892.9 524.3,890.7 524.5,892.4 524.8,894.1 525.0,895.9 525.2,894.2 525.3,892.5 525.5,890.8 525.7,889.1 525.9,887.4 526.0,885.7 526.2,884.0 526.4,882.3 526.6,880.5 526.9,878.7 527.1,876.9 527.3,875.2 527.7,877.2 528.1,879.2 528.4,877.4 528.7,875.6 528.9,873.8 529.2,872.0 529.5,870.1 529.9,868.1 530.2,866.1 530.5,867.8 530.7,869.4 531.0,871.0 531.2,872.7 531.5,874.4 531.6,872.7 531.8,871.1 531.9,869.3 532.1,867.7 532.2,866.0 532.4,864.2 532.5,862.4 532.7,860.7 532.9,858.9 533.2,860.7 533.5,862.7 533.8,864.5 534.1,866.1 534.3,867.7 534.6,869.2 535.7,870.5 536.7,871.9 537.0,873.5 537.3,875.3 537.6,877.0 537.8,878.5 538.0,880.0 538.2,881.5 538.4,883.0 538.6,884.5 538.8,886.1 538.9,887.6 539.1,889.2 539.3,890.7 540.1,890.7 540.1,892.2 540.1,893.8 540.2,895.3 540.2,896.8 540.2,898.4 540.2,899.8 540.2,901.4 540.3,903.0 540.3,904.5 540.3,906.0 540.3,907.6 540.3,909.3 540.4,910.9 540.4,912.5 540.4,914.2 540.4,915.9 540.5,917.5 540.5,919.2 540.5,920.8 541.1,922.5 541.6,924.3 542.2,926.0 542.6,927.7 543.0,929.4 543.5,931.1 543.9,932.8 544.0,934.3 544.0,935.8 544.1,937.3 544.1,938.9 544.2,940.4 544.3,941.9 544.3,943.5 544.4,945.0 544.5,946.5 544.5,948.1 544.6,949.8 544.7,951.3 544.8,952.9 544.8,954.5 544.9,956.1 545.0,954.4 545.1,952.8 545.2,951.1 545.3,949.5 545.4,947.8 546.2,949.5 546.4,951.1 546.7,952.6 546.9,954.1 547.2,955.7 547.4,957.3 547.7,958.8 547.9,960.4 549.6,961.2 549.7,962.8 549.8,964.3 549.9,965.8 549.9,967.4 550.0,968.9 550.1,970.4 550.2,972.0 550.3,973.5 550.4,975.0 550.5,976.6 550.5,978.1 550.6,979.6 550.7,981.1 550.8,982.7 551.1,984.5 551.3,986.3 551.6,988.2 551.9,990.0 552.2,991.6 552.5,993.2 552.7,994.9 553.0,996.5 553.3,998.2 553.7,999.9 554.0,1001.6 554.4,1003.3 554.7,1005.1 555.9,1007.2 557.3,1008.4 560.0,1009.0 562.5,1009.5 564.0,1009.5 565.5,1009.6 567.0,1009.6 568.5,1009.6 570.0,1009.8 571.7,1009.7 573.3,1009.7 575.0,1009.6 576.7,1009.7 578.3,1009.7 580.0,1010.0 582.0,1009.9 584.0,1009.8 586.0,1010.3 588.0,1010.9 589.8,1011.7 591.5,1012.6 593.1,1012.8 594.7,1013.2 597.0,1014.0 599.2,1014.1"/>
<polyline class="c d" stroke-dasharray="6.5 5.7" points="149.3,1005.9 150.8,1006.0 152.4,1006.1 153.9,1005.9 155.4,1005.8 157.0,1005.7 158.5,1006.0 160.0,1005.9 161.6,1006.0 163.1,1005.8 164.7,1006.0 166.2,1005.8 167.7,1006.1 169.3,1006.0 170.8,1005.9 172.3,1005.9 173.9,1006.0 175.4,1005.7 176.9,1005.9 178.5,1006.1 180.0,1005.8 181.5,1006.0 183.1,1006.0 184.6,1006.0 186.2,1005.8 187.7,1005.6 189.2,1006.0 190.8,1005.9 192.3,1005.7 193.8,1005.6 195.4,1005.6 196.9,1005.8 198.5,1005.6 200.0,1005.9 201.5,1005.8 203.0,1005.6 204.5,1005.9 206.0,1005.8 207.5,1006.1 209.0,1006.1 210.5,1006.0 212.0,1006.1 213.5,1006.2 215.0,1006.3 216.5,1006.4 218.0,1005.9 219.5,1006.1 221.0,1006.2 222.5,1006.1 224.0,1006.3 225.5,1006.0 227.0,1006.5 228.5,1006.3 230.0,1006.1 231.5,1006.4 233.1,1006.2 234.6,1006.1 236.2,1006.3 237.7,1006.1 239.2,1006.2 240.8,1006.5 242.3,1006.4 243.8,1006.1 245.4,1006.4 246.9,1006.1 248.5,1006.2 250.0,1006.5 251.5,1006.3 253.0,1006.2 254.5,1006.2 256.0,1006.1 257.5,1006.0 259.0,1006.4 260.5,1005.9 262.0,1006.1 263.7,1006.1 265.3,1005.8 267.0,1006.0 268.7,1005.5 270.3,1005.8 272.0,1005.6 273.6,1005.4 275.2,1005.4 276.8,1005.0 278.4,1005.1 280.0,1004.9 281.7,1004.8 283.3,1004.7 285.0,1004.8 286.7,1004.6 288.3,1004.3 290.0,1004.6 291.5,1004.4 293.0,1004.5 294.5,1004.7 296.0,1004.4 297.6,1004.3 299.1,1004.4 300.7,1004.6 302.2,1004.4 303.8,1004.4 305.3,1004.4 306.9,1004.7 308.4,1004.3 310.0,1004.4 311.7,1004.6 313.3,1004.4 315.0,1004.2 316.7,1004.3 318.3,1004.2 320.0,1004.0 322.0,1003.3 324.0,1002.5 326.0,1001.9 328.0,1000.7 329.8,1000.1 331.5,999.5 333.1,998.8 334.7,997.8 335.6,996.7 336.6,995.2 337.5,993.9 338.3,992.4 339.2,991.0 340.0,989.5 340.7,987.8 341.3,986.2 342.0,985.0 342.7,983.4 343.3,982.0 344.0,980.9 345.5,980.5 347.0,980.7 348.9,980.2 350.7,980.2 352.4,980.0 354.0,979.5 355.6,979.0 357.3,978.9 360.0,979.6 361.4,980.4 362.7,981.4 363.7,983.1 364.7,984.5 365.7,986.2 366.7,987.8 368.0,989.7 369.4,991.3 370.7,992.9 372.0,994.2 373.7,993.9 375.4,994.2 377.0,993.9 378.7,993.9 380.3,994.1 381.9,994.0 383.5,994.2 385.1,994.0 386.7,994.0 388.4,994.3 390.0,995.2 391.6,995.5 393.3,996.6 395.1,997.4 397.0,998.0 399.1,998.4 401.3,998.7 403.0,998.8 404.7,998.8 406.5,998.5 408.2,998.9 409.9,998.9"/>
<text class="lb" transform="translate(516,408) scale(1,1.04)">CO</text>
<text class="lb" transform="translate(518.2,626.7) scale(1,1.04)">O<tspan dy="7" dx="0.4" style="font-size:18.5px">2</tspan></text>
<text class="lb" transform="translate(515.8,840.5) scale(1,1.04)">CO<tspan dy="8.3" dx="0.4" style="font-size:18.5px">2</tspan></text>
<text class="lb" transform="translate(443.7,718.8) scale(1,1.04)" style="font-size:24px">5x</text>
<text class="lb" transform="translate(344,962.3) scale(1,1.04)">20x</text>
</svg></body></html>
